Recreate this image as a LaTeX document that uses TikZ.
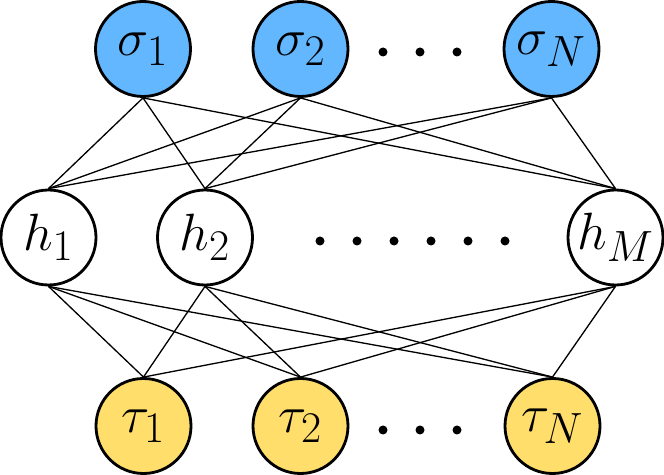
\documentclass[tikz,border=0pt]{standalone}
\usepackage{amsmath,amssymb}
\usepackage{xcolor}
\usepackage{tikz}
\usetikzlibrary{positioning,calc}

\definecolor{visblue}{RGB}{99,183,255}
\definecolor{visyellow}{RGB}{255,222,108}
\newcommand{\unitlabel}[1]{\scalebox{1.2}{$#1$}}

\begin{document}
\begin{tikzpicture}[
  unit/.style={circle, draw, line width=1.6pt, minimum size=1.9cm, inner sep=0pt, font=\Huge},
  vis/.style={unit, fill=visblue},
  outunit/.style={unit, fill=visyellow},
  hid/.style={unit, fill=white},
  dotmark/.style={circle, fill=black, inner sep=0pt, minimum size=0.18cm},
  link/.style={line width=0.75pt}
]
  \useasboundingbox (0,0) rectangle (13.28,9.5);

  % top layer
  \node[vis] (s1) at (2.86, 8.52) {\unitlabel{\sigma_1}};
  \node[vis] (s2) at (6.01, 8.52) {\unitlabel{\sigma_2}};
  \node[vis] (sN) at (11.03, 8.52) {\unitlabel{\sigma_N}};

  % hidden layer
  \node[hid] (h1) at (0.97, 4.75) {\unitlabel{h_1}};
  \node[hid] (h2) at (4.10, 4.75) {\unitlabel{h_2}};
  \node[hid] (hM) at (12.31, 4.75) {\unitlabel{h_M}};

  % bottom layer
  \node[outunit] (t1) at (2.87, 0.98) {\unitlabel{\tau_1}};
  \node[outunit] (t2) at (6.01, 0.98) {\unitlabel{\tau_2}};
  \node[outunit] (tN) at (11.05, 0.98) {\unitlabel{\tau_N}};

  % dots
  \foreach \i in {0,1,2} {
    \node[dotmark] (sd\i) at (7.66+0.74*\i, 8.46) {};
    \node[dotmark] (td\i) at (7.66+0.74*\i, 0.90) {};
  }
  \foreach \i in {0,...,5}
    \node[dotmark] (hd\i) at (6.40+0.74*\i, 4.68) {};

  % connections
  \foreach \s in {s1,s2,sN}
    \foreach \h in {h1,h2,hM}
      \draw[link] (\s.south) -- (\h.north);
  \foreach \h in {h1,h2,hM}
    \foreach \t in {t1,t2,tN}
      \draw[link] (\h.south) -- (\t.north);
\end{tikzpicture}
\end{document}
